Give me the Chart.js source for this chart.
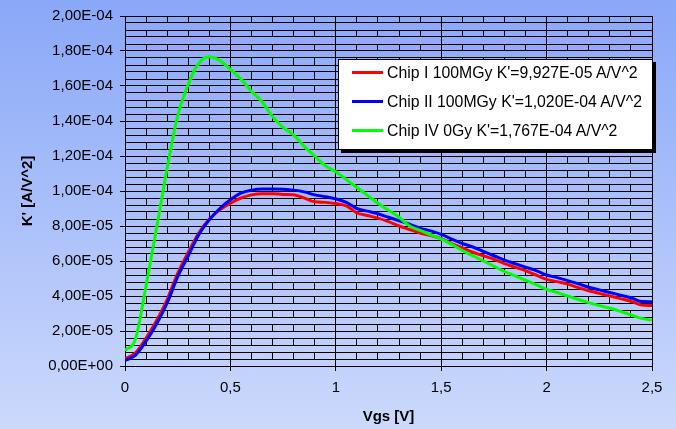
<!DOCTYPE html>
<html>
<head>
<meta charset="utf-8">
<script src="https://cdn.jsdelivr.net/npm/chart.js@4.4.0/dist/chart.umd.min.js"></script>
<style>
html,body{margin:0;padding:0}
body{width:676px;height:429px;overflow:hidden;background:linear-gradient(#8aa8f8,#ccd9fc)}
#wrap{position:relative;width:676px;height:429px}
#legend{position:absolute;left:338px;top:59px;width:313px;height:89px;background:#fff;border:1px solid #000;box-shadow:3px 3px 0 #000;font:15.8px Arial,'Liberation Sans',sans-serif;color:#000}
.li{position:absolute;left:13px;height:20px;line-height:20px;white-space:nowrap}
.li span{display:inline-block;width:31px;height:3px;vertical-align:middle;margin-right:4px;position:relative;top:-1px}
</style>
</head>
<body>
<div id="wrap">
  <canvas id="chartK" width="676" height="429"></canvas>
  <div id="legend"></div>
</div>
<script>
// Vgs [V]
const vgs=[0,0.05,0.1,0.15,0.2,0.25,0.3,0.35,0.4,0.45,0.5,0.55,0.6,0.65,0.7,0.75,0.8,0.85,0.9,0.95,
  1,1.05,1.1,1.15,1.2,1.25,1.3,1.35,1.4,1.45,1.5,1.55,1.6,1.65,1.7,1.75,1.8,1.85,1.9,1.95,
  2,2.05,2.1,2.15,2.2,2.25,2.3,2.35,2.4,2.45,2.5];
// K' values in units of 1E-05 A/V^2
const chipI=[0.42,0.75,1.6,2.6,3.8,5.3,6.5,7.6,8.4,8.92,9.3,9.6,9.78,9.85,9.85,9.8,9.78,9.6,9.38,9.35,
  9.28,9.15,8.75,8.6,8.45,8.25,8.0,7.8,7.6,7.45,7.28,7.0,6.75,6.5,6.3,6.1,5.85,5.65,5.45,5.2,
  4.95,4.82,4.68,4.48,4.3,4.15,4.0,3.85,3.7,3.48,3.45];
const chipII=[0.32,0.62,1.42,2.4,3.6,5.1,6.3,7.5,8.35,9.0,9.5,9.88,10.05,10.12,10.12,10.1,10.05,9.95,9.78,9.68,
  9.55,9.35,9.0,8.85,8.7,8.5,8.3,8.1,7.88,7.72,7.52,7.25,7.0,6.8,6.55,6.3,6.05,5.85,5.65,5.45,
  5.2,5.05,4.88,4.7,4.5,4.35,4.2,4.05,3.9,3.68,3.67];
const chipIV=[0.89,1.55,4.6,7.9,11.3,14.3,16.1,17.3,17.67,17.45,16.95,16.4,15.7,15.1,14.25,13.64,13.2,12.55,12.0,11.45,
  11.1,10.65,10.2,9.75,9.3,8.9,8.5,8.0,7.75,7.5,7.25,6.95,6.6,6.3,6.0,5.7,5.4,5.15,4.9,4.65,
  4.38,4.2,4.0,3.8,3.62,3.45,3.3,3.12,2.92,2.72,2.62];
const seriesLabels=["Chip I 100MGy K'=9,927E-05 A/V^2","Chip II 100MGy K'=1,020E-04 A/V^2","Chip IV 0Gy K'=1,767E-04 A/V^2"];
const seriesColors=['#ff0000','#0000ff','#00ff00'];
const xMajor=['0','0,5','1','1,5','2','2,5'];

const FONT="Arial, 'Liberation Sans', sans-serif";
const pts=arr=>arr.map((k,i)=>({x:vgs[i],y:k}));

// format 2 (x1E-05) -> "2,00E-05"
function sci(v){
  if(Math.abs(v)<1e-9) return '0,00E+00';
  const s=(v*1e-5).toExponential(2);
  const [m,e]=s.split('e');
  const n=parseInt(e,10);
  return m.replace('.',',')+'E'+(n<0?'-':'+')+String(Math.abs(n)).padStart(2,'0');
}

const ds=[chipI,chipII,chipIV].map((arr,i)=>({
  label:seriesLabels[i],data:pts(arr),borderColor:seriesColors[i],backgroundColor:seriesColors[i],
  borderWidth:3,pointRadius:0,cubicInterpolationMode:'monotone',fill:false,order:2-i
}));

new Chart(document.getElementById('chartK'),{
  type:'line',
  data:{datasets:ds},
  options:{
    responsive:false,animation:false,
    layout:{padding:{left:0,top:13,right:24,bottom:0}},
    plugins:{legend:{display:false},tooltip:{enabled:false}},
    scales:{
      x:{type:'linear',min:0,max:2.5,
        afterFit:s=>{s.height=63;},
        ticks:{stepSize:0.1,autoSkip:false,maxRotation:0,padding:8,color:'#000',font:{family:FONT,size:15},
          callback:v=>{const t=Math.round(v*10);return t%5===0?xMajor[t/5]:'';}},
        grid:{color:'#000',lineWidth:1,tickLength:5,
          tickColor:c=>Math.round(c.tick.value*10)%5===0?'#000':'rgba(0,0,0,0)'},
        border:{color:'#000',width:1,dash:c=>(c.tick&&Math.round(c.tick.value*10)%5===0)?[]:[7,7]},
        title:{display:true,text:'Vgs [V]',color:'#000',font:{family:FONT,size:15,weight:'bold'},padding:{top:0,bottom:3}}
      },
      y:{type:'linear',min:0,max:20,
        afterFit:s=>{s.width=125;},
        ticks:{stepSize:0.4,autoSkip:false,padding:7,color:'#000',font:{family:FONT,size:15},
          callback:v=>{const t=Math.round(v*10);return t%20===0?sci(t/10):'';}},
        grid:{color:'#000',lineWidth:1,tickLength:5,
          tickColor:c=>Math.round(c.tick.value*10)%20===0?'#000':'rgba(0,0,0,0)'},
        border:{color:'#000',width:1},
        title:{display:true,text:"K' [A/V^2]",color:'#000',font:{family:FONT,size:15,weight:'bold'},padding:{top:19,bottom:0}}
      }
    }
  }
});

// legend box inside the plot, built from the series arrays
document.getElementById('legend').innerHTML=seriesLabels.map((l,i)=>
  `<div class="li" style="top:${[3,32,61][i]}px"><span style="background:${seriesColors[i]}"></span>${l}</div>`).join('');
</script>
</body>
</html>
